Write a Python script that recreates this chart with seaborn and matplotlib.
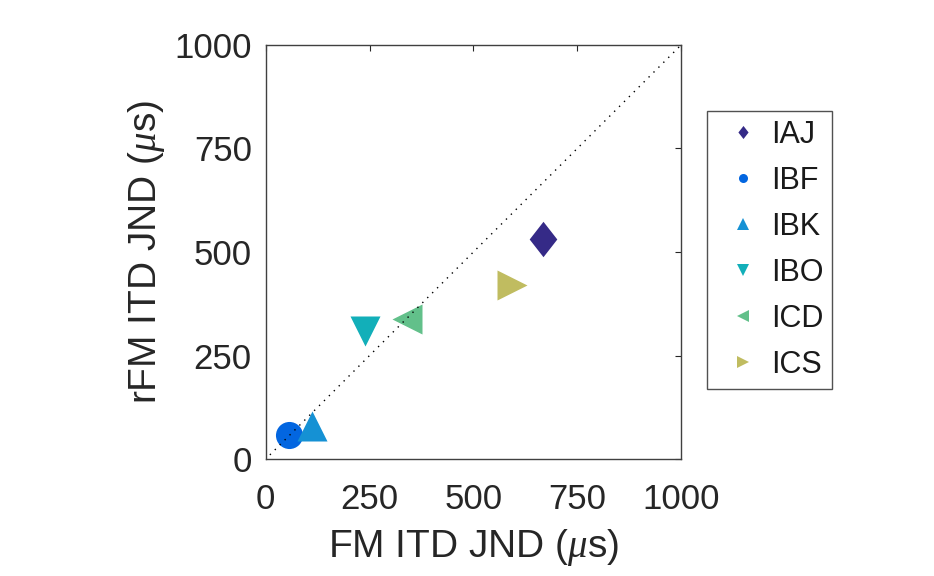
import matplotlib
matplotlib.use("Agg")
import matplotlib.pyplot as plt
from matplotlib.lines import Line2D
from matplotlib.path import Path
import seaborn as sns
import pandas as pd

# ---- data ----
subjects = ["IAJ", "IBF", "IBK", "IBO", "ICD", "ICS"]
fm_itd = [668, 57, 111, 240, 339, 592]
rfm_itd = [531, 58, 80, 308, 338, 420]
colors = ["#352A87", "#0366E0", "#1591D4", "#12AFB9", "#62C08A", "#C0BC60"]
ticks = [0, 250, 500, 750, 1000]

sns.set_theme(style="white")
plt.rcParams["font.family"] = ["Liberation Sans", "DejaVu Sans"]
plt.rcParams["mathtext.fontset"] = "custom"
plt.rcParams["mathtext.it"] = "Liberation Serif:italic"
plt.rcParams["mathtext.rm"] = "Liberation Sans"

diamond = Path([(0, 1), (0.78, 0), (0, -1), (-0.78, 0), (0, 1)],
               [Path.MOVETO, Path.LINETO, Path.LINETO, Path.LINETO, Path.CLOSEPOLY])
markers = {"IAJ": diamond, "IBF": "o", "IBK": "^", "IBO": "v", "ICD": "<", "ICS": ">"}
sizes_pt = {"IAJ": 25.5, "IBF": 19.5, "IBK": 21.6, "IBO": 21.6, "ICD": 21.6, "ICS": 21.6}
leg_sizes = {"IAJ": 9.4, "IBF": 6.5, "IBK": 8.5, "IBO": 8.5, "ICD": 8.5, "ICS": 8.5}

df = pd.DataFrame({"subject": subjects, "fm": fm_itd, "rfm": rfm_itd})
palette = dict(zip(subjects, colors))

fig = plt.figure(figsize=(9.34, 5.76), dpi=100)
ax = fig.add_axes([0.2845, 0.2031, 0.4447, 0.7188])

ax.plot([10, 1000], [10, 1000], linestyle=(0, (1, 4)), color="black", lw=1.0, zorder=3)

for s in subjects:
    sub = df[df.subject == s]
    sns.scatterplot(data=sub, x="fm", y="rfm", color=palette[s], marker=markers[s],
                    s=sizes_pt[s] ** 2, linewidth=0, ax=ax, legend=False, zorder=2)

ax.set_xlim(0, 1000)
ax.set_ylim(0, 1000)
ax.set_xticks(ticks)
ax.set_yticks(ticks)
ax.set_xticklabels([str(t) for t in ticks])
ax.set_yticklabels([str(t) for t in ticks])
tc = "#262626"
ax.tick_params(axis="both", direction="in", length=4, width=0.8, colors=tc,
               labelsize=25, top=True, right=True, labelcolor=tc)
ax.tick_params(axis="x", pad=17)
ax.tick_params(axis="y", pad=10)
for sp in ax.spines.values():
    sp.set_color("#404040")
    sp.set_linewidth(1.0)

ax.set_xlabel(r"FM ITD JND ($\mu$s)", fontsize=28, color=tc, labelpad=8)
ax.set_ylabel(r"rFM ITD JND ($\mu$s)", fontsize=28, color=tc, labelpad=5.5)

handles = [Line2D([], [], linestyle="none", marker=markers[s], color=palette[s],
                  markersize=leg_sizes[s], markeredgewidth=0) for s in subjects]
leg = fig.legend(handles, subjects, loc="upper left", bbox_to_anchor=(0.7566, 0.8073),
                 bbox_transform=fig.transFigure, fontsize=22, frameon=True,
                 fancybox=False, borderpad=0.3, handlelength=1.8, handletextpad=0.0,
                 labelspacing=0.52, borderaxespad=0)
leg.get_frame().set_edgecolor("#262626")
leg.get_frame().set_linewidth(1.0)
for t in leg.get_texts():
    t.set_color("#1a1a1a")

fig.savefig("out.png", dpi=100)
